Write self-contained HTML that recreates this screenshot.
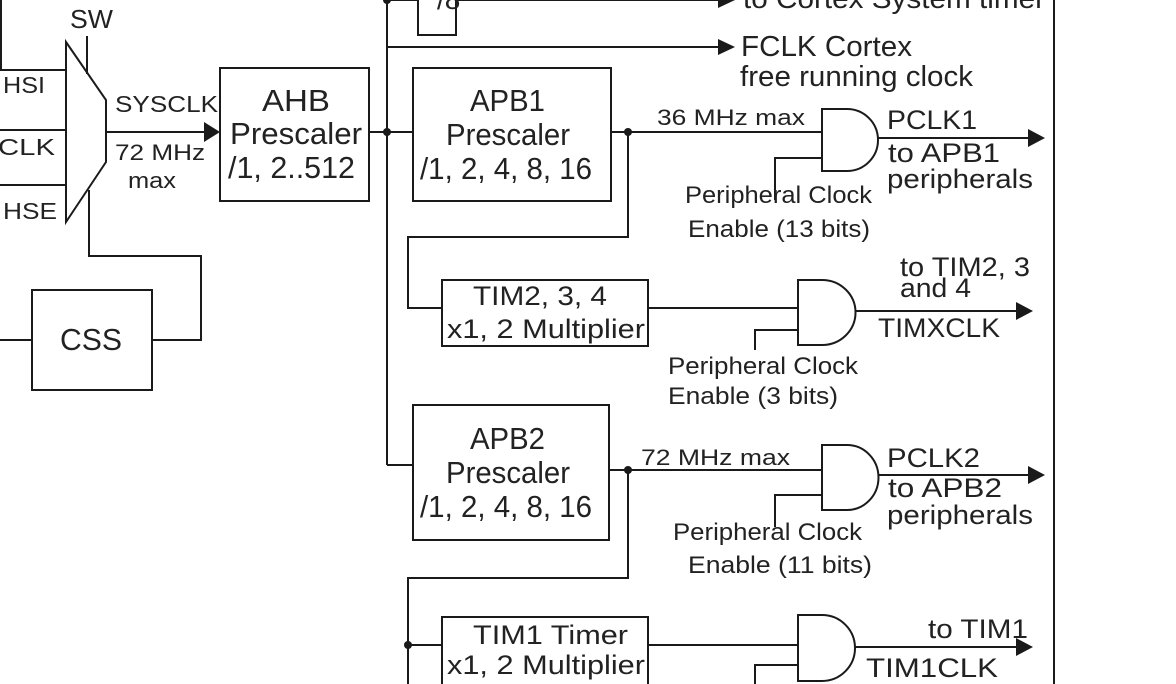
<!DOCTYPE html>
<html><head><meta charset="utf-8"><style>
html,body{margin:0;padding:0;background:#fff;}
svg{display:block;}
text{font-family:"Liberation Sans",sans-serif;fill:#222;}
</style></head><body>
<svg width="1176" height="684" viewBox="0 0 1176 684" xmlns="http://www.w3.org/2000/svg">
<g stroke="#1a1a1a" stroke-width="2" fill="none">
<polyline points="1,0 1,70 66,70"/>
<line x1="0" y1="130" x2="66" y2="130"/>
<line x1="0" y1="185" x2="66" y2="185"/>
<polygon points="66,42 106,100 106,162 66,222" fill="#fff"/>
<line x1="87" y1="36" x2="87" y2="74"/>
<polyline points="89,190 89,256 201,256 201,340 152,340"/>
<line x1="0" y1="340" x2="32" y2="340"/>
<rect x="32" y="290" width="120" height="100"/>
<line x1="106" y1="132" x2="205" y2="132"/>
<rect x="220" y="68" width="149" height="133"/>
<line x1="369" y1="132" x2="413" y2="132"/>
<line x1="387" y1="0" x2="387" y2="465"/>
<line x1="387" y1="465" x2="413" y2="465"/>
<line x1="387" y1="0" x2="418" y2="0"/>
<rect x="418" y="-20" width="38" height="55"/>
<line x1="456" y1="0" x2="720" y2="0"/>
<line x1="387" y1="47" x2="720" y2="47"/>
<rect x="413" y="68" width="198" height="133"/>
<line x1="611" y1="132" x2="822" y2="132"/>
<polyline points="628,132 628,237 408,237 408,308 442,308"/>
<path d="M822,109 L847,109 A31,31 0 0 1 847,171 L822,171 Z"/>
<line x1="878" y1="138" x2="1030" y2="138"/>
<polyline points="775,200 775,158 822,158"/>
<rect x="442" y="280" width="206" height="66"/>
<line x1="648" y1="308" x2="798" y2="308"/>
<path d="M798,280 L822,280 A33,32 0 0 1 822,345 L798,345 Z"/>
<line x1="855" y1="311" x2="1018" y2="311"/>
<polyline points="755,350 755,330 798,330"/>
<line x1="1054" y1="0" x2="1054" y2="684"/>
<rect x="413" y="405" width="196" height="135"/>
<line x1="609" y1="470" x2="822" y2="470"/>
<path d="M822,445 L847,445 A31,32 0 0 1 847,510 L822,510 Z"/>
<line x1="878" y1="475" x2="1030" y2="475"/>
<polyline points="775,527 775,495 822,495"/>
<polyline points="628,470 628,578 408,578 408,684"/>
<rect x="442" y="617" width="206" height="80"/>
<line x1="408" y1="645" x2="442" y2="645"/>
<line x1="648" y1="645" x2="798" y2="645"/>
<path d="M798,615 L822,615 A33,33 0 0 1 822,681 L798,681 Z"/>
<line x1="855" y1="647" x2="1018" y2="647"/>
<polyline points="755,684 755,665 798,665"/>
</g>
<g fill="#1a1a1a">
<polygon points="204,122 220,132 204,142"/>
<polygon points="718,-8 735,0 718,8"/>
<polygon points="718,39 735,47 718,55"/>
<polygon points="1028,129 1045,138 1028,147"/>
<polygon points="1016,302 1033,311 1016,320"/>
<polygon points="1028,466 1045,475 1028,484"/>
<polygon points="1016,638 1033,647 1016,656"/>
<circle cx="387" cy="132" r="4"/>
<circle cx="628" cy="132" r="4"/>
<circle cx="628" cy="470" r="4"/>
<circle cx="408" cy="645" r="4"/>
<circle cx="387" cy="0" r="4"/>
</g>
<g>
<text x="70" y="28" font-size="26" textLength="43" lengthAdjust="spacingAndGlyphs">SW</text>
<text x="3" y="93" font-size="23" textLength="42" lengthAdjust="spacingAndGlyphs">HSI</text>
<text x="-2" y="155" font-size="23" textLength="57" lengthAdjust="spacingAndGlyphs">CLK</text>
<text x="3" y="219" font-size="23" textLength="54" lengthAdjust="spacingAndGlyphs">HSE</text>
<text x="115" y="112" font-size="23" textLength="103" lengthAdjust="spacingAndGlyphs">SYSCLK</text>
<text x="115" y="160" font-size="22" textLength="90" lengthAdjust="spacingAndGlyphs">72 MHz</text>
<text x="128" y="188" font-size="22" textLength="48" lengthAdjust="spacingAndGlyphs">max</text>
<text x="60" y="350" font-size="31" textLength="62" lengthAdjust="spacingAndGlyphs">CSS</text>
<text x="262" y="111" font-size="31" textLength="68" lengthAdjust="spacingAndGlyphs">AHB</text>
<text x="230" y="144" font-size="31" textLength="132" lengthAdjust="spacingAndGlyphs">Prescaler</text>
<text x="228" y="178" font-size="31" textLength="127" lengthAdjust="spacingAndGlyphs">/1, 2..512</text>
<text x="437" y="9" font-size="28">/8</text>
<text x="743" y="8" font-size="28" textLength="302" lengthAdjust="spacingAndGlyphs">to Cortex System timer</text>
<text x="741" y="56" font-size="29" textLength="171" lengthAdjust="spacingAndGlyphs">FCLK Cortex</text>
<text x="740" y="86" font-size="29" textLength="233" lengthAdjust="spacingAndGlyphs">free running clock</text>
<text x="470" y="111" font-size="31" textLength="75" lengthAdjust="spacingAndGlyphs">APB1</text>
<text x="446" y="145" font-size="31" textLength="124" lengthAdjust="spacingAndGlyphs">Prescaler</text>
<text x="420" y="179" font-size="31" textLength="172" lengthAdjust="spacingAndGlyphs">/1, 2, 4, 8, 16</text>
<text x="657" y="125" font-size="22" textLength="148" lengthAdjust="spacingAndGlyphs">36 MHz max</text>
<text x="887" y="129" font-size="27" textLength="90" lengthAdjust="spacingAndGlyphs">PCLK1</text>
<text x="888" y="162" font-size="27" textLength="112" lengthAdjust="spacingAndGlyphs">to APB1</text>
<text x="887" y="188" font-size="27" textLength="146" lengthAdjust="spacingAndGlyphs">peripherals</text>
<text x="685" y="203" font-size="24" textLength="187" lengthAdjust="spacingAndGlyphs">Peripheral Clock</text>
<text x="688" y="237" font-size="24" textLength="182" lengthAdjust="spacingAndGlyphs">Enable (13 bits)</text>
<text x="473" y="305" font-size="27" textLength="134" lengthAdjust="spacingAndGlyphs">TIM2, 3, 4</text>
<text x="447" y="338" font-size="27" textLength="198" lengthAdjust="spacingAndGlyphs">x1, 2 Multiplier</text>
<text x="900" y="276" font-size="27" textLength="130" lengthAdjust="spacingAndGlyphs">to TIM2, 3</text>
<text x="900" y="297" font-size="27" textLength="71" lengthAdjust="spacingAndGlyphs">and 4</text>
<text x="878" y="337" font-size="27" textLength="122" lengthAdjust="spacingAndGlyphs">TIMXCLK</text>
<text x="668" y="374" font-size="24" textLength="190" lengthAdjust="spacingAndGlyphs">Peripheral Clock</text>
<text x="668" y="404" font-size="24" textLength="170" lengthAdjust="spacingAndGlyphs">Enable (3 bits)</text>
<text x="470" y="449" font-size="31" textLength="75" lengthAdjust="spacingAndGlyphs">APB2</text>
<text x="446" y="483" font-size="31" textLength="124" lengthAdjust="spacingAndGlyphs">Prescaler</text>
<text x="420" y="517" font-size="31" textLength="172" lengthAdjust="spacingAndGlyphs">/1, 2, 4, 8, 16</text>
<text x="641" y="465" font-size="22" textLength="149" lengthAdjust="spacingAndGlyphs">72 MHz max</text>
<text x="887" y="467" font-size="27" textLength="93" lengthAdjust="spacingAndGlyphs">PCLK2</text>
<text x="888" y="497" font-size="27" textLength="114" lengthAdjust="spacingAndGlyphs">to APB2</text>
<text x="887" y="524" font-size="27" textLength="146" lengthAdjust="spacingAndGlyphs">peripherals</text>
<text x="673" y="540" font-size="24" textLength="189" lengthAdjust="spacingAndGlyphs">Peripheral Clock</text>
<text x="688" y="573" font-size="24" textLength="184" lengthAdjust="spacingAndGlyphs">Enable (11 bits)</text>
<text x="473" y="644" font-size="27" textLength="155" lengthAdjust="spacingAndGlyphs">TIM1 Timer</text>
<text x="447" y="674" font-size="27" textLength="198" lengthAdjust="spacingAndGlyphs">x1, 2 Multiplier</text>
<text x="928" y="638" font-size="27" textLength="100" lengthAdjust="spacingAndGlyphs">to TIM1</text>
<text x="866" y="677" font-size="27" textLength="132" lengthAdjust="spacingAndGlyphs">TIM1CLK</text>
</g>
</svg>
</body></html>
